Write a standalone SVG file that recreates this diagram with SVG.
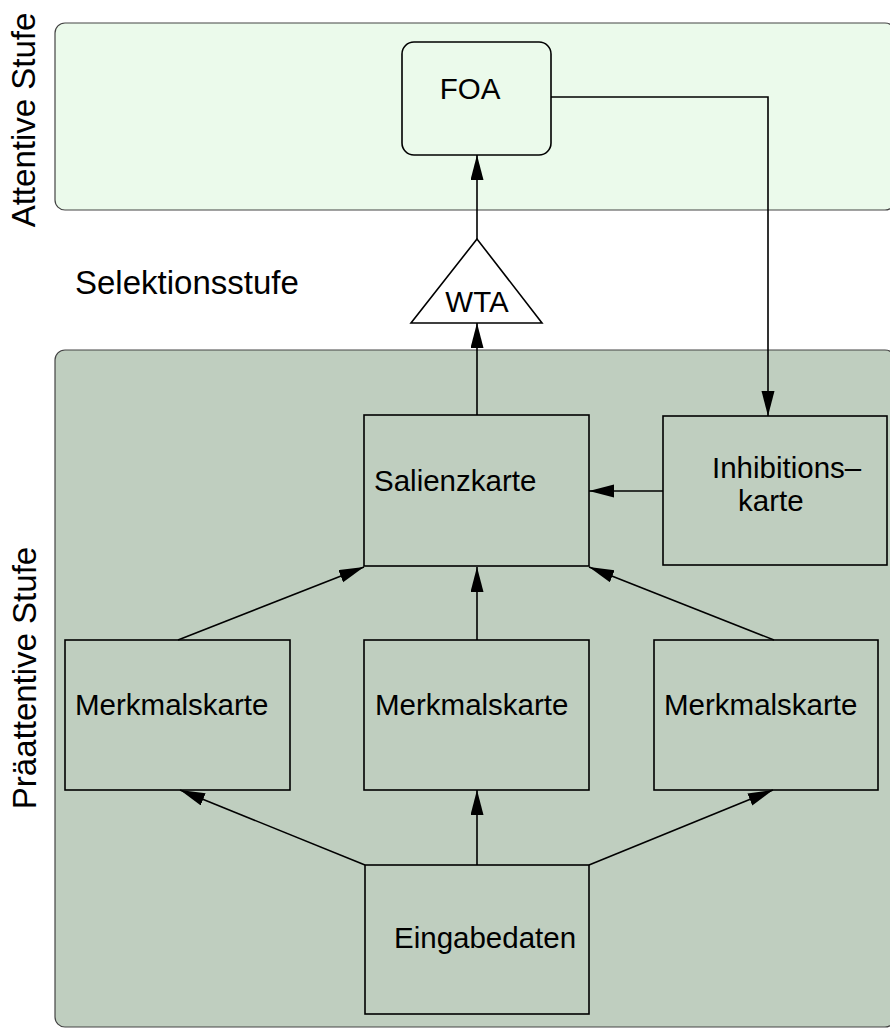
<svg xmlns="http://www.w3.org/2000/svg" width="890" height="1030" viewBox="0 0 890 1030">
<defs>
<style>
.panel{stroke:#444;stroke-width:1.2}
.box{fill:none;stroke:#000;stroke-width:1.6}
.t{font-family:"Liberation Sans",Arial,sans-serif;font-size:29.5px;fill:#000}
.lbl{font-family:"Liberation Sans",Arial,sans-serif;font-size:33px;fill:#000}
.c{fill:none;stroke:#000;stroke-width:1.6}
</style>
<marker id="ah" markerUnits="userSpaceOnUse" markerWidth="26" markerHeight="14" refX="25" refY="6.5" orient="auto">
<path d="M0,0 L25,6.5 L0,13 z" fill="#000"/>
</marker>
</defs>
<rect width="890" height="1030" fill="#fff"/>
<g id="attentive-panel">
<rect class="panel" x="55" y="23" width="840" height="187" rx="10" fill="#ebfaeb"/>
<text class="lbl" transform="translate(35,120) rotate(-90)" text-anchor="middle">Attentive Stufe</text>
</g>
<g id="praeattentive-panel">
<rect class="panel" x="55" y="350" width="840" height="677" rx="10" fill="#bfcebf"/>
<text class="lbl" transform="translate(36,678) rotate(-90)" text-anchor="middle">Präattentive Stufe</text>
</g>
<g id="selektion-label">
<text class="lbl" x="75" y="294">Selektionsstufe</text>
</g>
<g id="foa">
<rect class="box" x="402" y="42" width="149" height="113" rx="12"/>
<text class="t" x="470" y="99" text-anchor="middle">FOA</text>
</g>
<g id="wta">
<polygon points="477,239 411,323 542,323" fill="#fff" stroke="#000" stroke-width="1.6"/>
<text class="t" x="477" y="312" text-anchor="middle">WTA</text>
</g>
<g id="salienzkarte">
<rect class="box" x="364" y="415" width="225" height="151"/>
<text class="t" x="374" y="491">Salienzkarte</text>
</g>
<g id="inhibitionskarte">
<rect class="box" x="663" y="416" width="224" height="149"/>
<text class="t" x="712" y="478">Inhibitions–</text>
<text class="t" x="738" y="511">karte</text>
</g>
<g id="merkmal-links">
<rect class="box" x="65" y="640" width="225" height="150"/>
<text class="t" x="75" y="715">Merkmalskarte</text>
</g>
<g id="merkmal-mitte">
<rect class="box" x="364" y="640" width="225" height="150"/>
<text class="t" x="375" y="715">Merkmalskarte</text>
</g>
<g id="merkmal-rechts">
<rect class="box" x="654" y="640" width="224" height="150"/>
<text class="t" x="664" y="715">Merkmalskarte</text>
</g>
<g id="eingabedaten">
<rect class="box" x="365" y="865" width="224" height="149"/>
<text class="t" x="394" y="948">Eingabedaten</text>
</g>
<g id="connectors">
<path class="c" d="M477,239 L477,155" marker-end="url(#ah)"/>
<path class="c" d="M477,415 L477,323" marker-end="url(#ah)"/>
<path class="c" d="M551,97 L768,97 L768,416" marker-end="url(#ah)"/>
<path class="c" d="M663,491 L589,491" marker-end="url(#ah)"/>
<path class="c" d="M178,640 L364,567" marker-end="url(#ah)"/>
<path class="c" d="M477,640 L477,567" marker-end="url(#ah)"/>
<path class="c" d="M774,640 L589,567" marker-end="url(#ah)"/>
<path class="c" d="M365,865 L180,790" marker-end="url(#ah)"/>
<path class="c" d="M477,865 L477,790" marker-end="url(#ah)"/>
<path class="c" d="M589,865 L773,790" marker-end="url(#ah)"/>
</g>
</svg>
